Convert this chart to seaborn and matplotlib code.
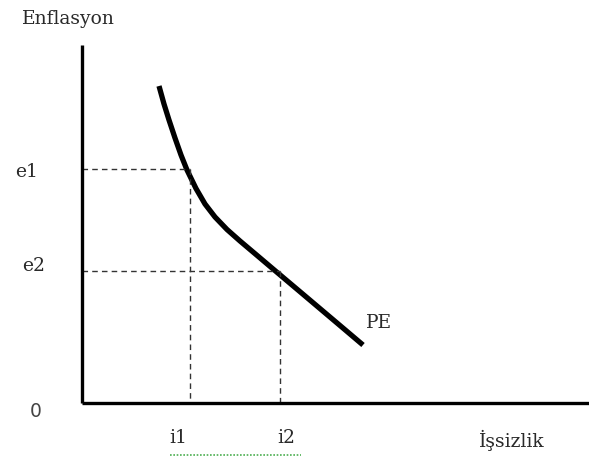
import matplotlib
matplotlib.use("Agg")
import matplotlib.pyplot as plt
import seaborn as sns
import pandas as pd

# Phillips curve (PE) in pixel-like units (y grows downward)
curve_x = [159, 164, 169, 175, 181, 187, 196, 205, 215, 227, 240, 258, 277, 300, 320, 342, 363]
curve_y = [86, 104, 120, 138, 155, 170, 188.5, 204, 217, 229.5, 241, 256.2, 272.3, 291.7, 308.6, 327.2, 345]

e_levels = [169, 271]       # e1, e2
i_levels = [190, 280]       # i1, i2
e_labels = ["e1", "e2"]
i_labels = ["i1", "i2"]

origin_x, origin_y = 82, 403
x_end, y_top = 589, 45

sns.set_style("white")
plt.rcParams['font.family'] = ['DejaVu Serif', 'DejaVu Sans']

fig = plt.figure(figsize=(5.89, 4.61), dpi=100)
ax = fig.add_axes([0, 0, 1, 1])
ax.set_xlim(0, 589)
ax.set_ylim(461, 0)
ax.axis("off")

df = pd.DataFrame({"x": curve_x, "y": curve_y})
sns.lineplot(data=df, x="x", y="y", sort=False, color="black", lw=3.8,
             solid_capstyle="butt", solid_joinstyle="round", ax=ax)

# dashed guide lines
for ey, ix in zip(e_levels, i_levels):
    ax.plot([origin_x, ix], [ey, ey], color="#333333", lw=1.0, ls=(0, (4, 3)))
    ax.plot([ix, ix], [ey, origin_y], color="#333333", lw=1.0, ls=(0, (4, 3)))

# axes lines
ax.plot([origin_x, origin_x], [y_top, origin_y], color="black", lw=2.4,
        solid_capstyle="butt")
ax.plot([origin_x, x_end], [origin_y, origin_y], color="black", lw=2.4,
        solid_capstyle="butt")

fs = 13.5
tc = "#2a2a2a"
ax.text(22, 19, "Enflasyon", fontsize=fs, va="center", ha="left", color=tc)
ax.text(15, 172, e_labels[0], fontsize=fs, va="center", ha="left", color=tc)
ax.text(22, 266, e_labels[1], fontsize=fs, va="center", ha="left", color=tc)
ax.text(30, 411, "0", fontsize=fs, va="center", ha="left", color="#444444",
        family=["DejaVu Sans"])
ax.text(169, 438, i_labels[0], fontsize=fs, va="center", ha="left", color=tc)
ax.text(277, 438, i_labels[1], fontsize=fs, va="center", ha="left", color=tc)
ax.text(479, 440, "İşsizlik", fontsize=fs, va="center", ha="left", color=tc)
ax.text(366, 323, "PE", fontsize=fs, va="center", ha="left", color=tc)

# green spell-check underline
ax.plot([170, 301], [455, 455], color="#4caf50", lw=1.2, ls=(0, (1, 1)))

fig.savefig("out.png", dpi=100)
